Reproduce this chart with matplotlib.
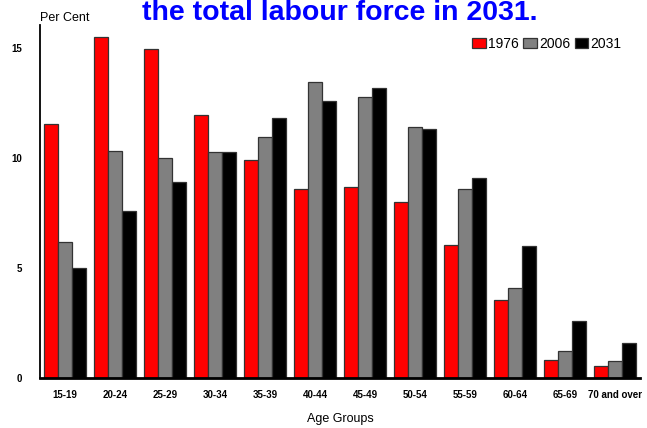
import matplotlib
matplotlib.use("Agg")
import matplotlib.pyplot as plt
import numpy as np

plt.rcParams['font.family'] = ['Liberation Sans', 'DejaVu Sans']

categories = ["15-19", "20-24", "25-29", "30-34", "35-39", "40-44",
              "45-49", "50-54", "55-59", "60-64", "65-69", "70 and over"]
series_names = ["1976", "2006", "2031"]
v1976 = [11.55, 15.5, 14.95, 11.95, 9.9, 8.6, 8.68, 8.0, 6.05, 3.55, 0.82, 0.55]
v2006 = [6.2, 10.32, 10.0, 10.27, 10.95, 13.45, 12.77, 11.4, 8.6, 4.1, 1.23, 0.77]
v2031 = [5.0, 7.6, 8.9, 10.27, 11.8, 12.6, 13.2, 11.3, 9.1, 6.0, 2.6, 1.6]
colors = ["#FF0000", "#808080", "#000000"]
yticks = [0, 5, 10, 15]

fig = plt.figure(figsize=(6.47, 4.28), dpi=100)
ax = fig.add_axes([40/647, 1-378/428, 600/647, (378-25)/428])

x = np.arange(len(categories))
w = 0.28
for i, (vals, c, name) in enumerate(zip([v1976, v2006, v2031], colors, series_names)):
    ax.bar(x + (i-1)*w, vals, width=w, color=c, edgecolor="#333333", linewidth=0.9, label=name)

ax.set_xlim(-0.5, len(categories)-0.5)
ax.set_ylim(0, 16.05)
ax.set_yticks(yticks)
ax.set_yticklabels([str(t) for t in yticks], fontsize=7, fontweight='bold')
ax.set_xticks(x)
ax.set_xticklabels(categories, fontsize=7, fontweight='bold')
ax.tick_params(axis='y', length=0, pad=13)
ax.tick_params(axis='x', length=0, pad=9)
for s in ['top', 'right']:
    ax.spines[s].set_visible(False)
ax.spines['left'].set_linewidth(1.3)
ax.spines['bottom'].set_linewidth(2)
ax.set_xlabel("Age Groups", fontsize=9, labelpad=9)

fig.text(40/647, 1-18/428, "Per Cent", fontsize=9, ha='left', va='center')
fig.text(340/647, 1-20/428, "the total labour force in 2031.", fontsize=20.5,
         fontweight='bold', color='#0000FF', ha='center', va='baseline')

fig.legend(loc='center', bbox_to_anchor=(547/647, 1-44/428), ncol=3, frameon=False,
           fontsize=10, handlelength=1.0, handleheight=0.7, handletextpad=0.15,
           columnspacing=0.3, borderpad=0)

fig.savefig("out.png", dpi=100)
